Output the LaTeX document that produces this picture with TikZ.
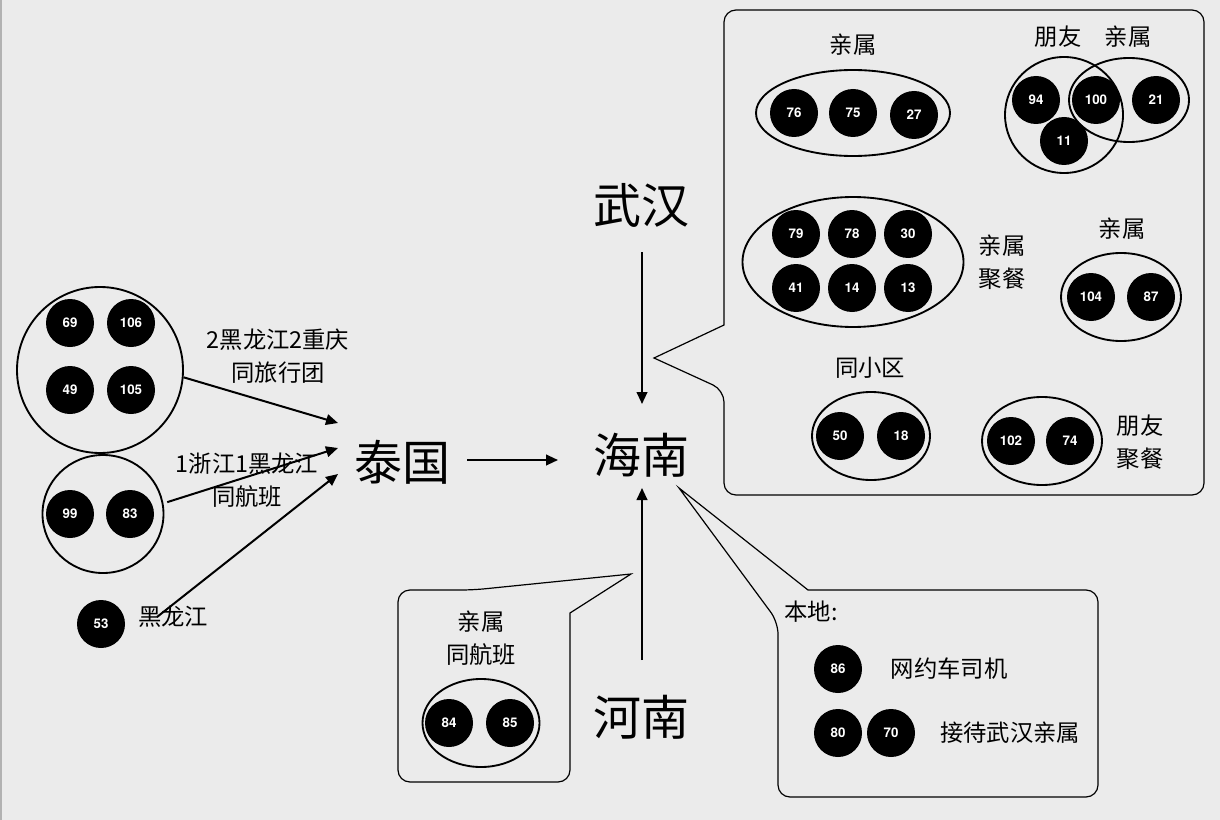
\documentclass[tikz,border=0pt]{standalone}
\usepackage{fontspec}
\setmainfont{Lato}
\newfontfamily\numfont{TeX Gyre Heros}
\newfontfamily\cjk{Noto Sans CJK SC}
\usetikzlibrary{shapes.geometric,arrows.meta}
\definecolor{bgc}{HTML}{EBEBEB}
\begin{document}
\begin{tikzpicture}[x=0.75pt,y=-0.75pt,
 person/.style={circle,fill=black,text=white,minimum size=36pt,inner sep=0pt,font=\numfont\bfseries\fontsize{10}{12}\selectfont},
 grp/.style 2 args={ellipse,draw=black,line width=1.4pt,inner sep=0pt,minimum width=#1*0.75pt,minimum height=#2*0.75pt},
 lab/.style={font=\cjk\fontsize{17.5}{24.5}\selectfont,align=center,inner sep=1pt},
 big/.style={font=\cjk\fontsize{36}{40}\selectfont,inner sep=1pt},
 arr/.style={-{Triangle[length=9pt,width=8pt]},line width=1.5pt},
 callout/.style={line width=0.9pt}]
\fill[bgc] (0,0) rectangle (1220,820);
\useasboundingbox (0,0) rectangle (1220,820);
\draw[gray!60,line width=1.2pt] (0.8,0) -- (0.8,820);

% ---- left groups
\node[grp={166}{166}] (g1) at (100,370) {};
\node[person] (p69) at (70,323) {69};
\node[person] (p106) at (131,323) {106};
\node[person] (p49) at (70,390) {49};
\node[person] (p105) at (131,390) {105};
\node[grp={121}{118}] (g2) at (103,514) {};
\node[person] (p99) at (70,514) {99};
\node[person] (p83) at (130,514) {83};
\node[person] (p53) at (101,624) {53};

\node[lab] (l1) at (278,356) {2黑龙江2重庆\\同旅行团};
\node[lab] (l2) at (247,480) {1浙江1黑龙江\\同航班};
\node[lab] (l3) at (173,617) {黑龙江};

\node[big] (taiguo) at (402,462) {泰国};
\node[big] (hainan) at (641,455) {海南};
\node[big] (wuhan) at (641,205) {武汉};
\node[big] (henan) at (641,717) {河南};

\coordinate (a1) at (338,423);
\coordinate (a2) at (338,448);
\coordinate (a3) at (338,474);
\coordinate (s3) at (157,617);
\draw[arr] (g1.-5) -- (a1);
\draw[arr,shorten <=3pt] (g2.10) -- (a2);
\draw[arr] (s3) -- (a3);

\coordinate (b1) at (467,460);
\coordinate (b2) at (558,460);
\draw[arr] (b1) -- (b2);
\coordinate (c1) at (642,252);
\coordinate (c2) at (642,404);
\draw[arr] (c1) -- (c2);
\coordinate (d1) at (642,660);
\coordinate (d2) at (642,488);
\draw[arr] (d1) -- (d2);

% ---- big callout
\draw[callout,rounded corners=9pt] (724,200) -- (724,10) -- (1204,10) -- (1204,495) -- (724,495) -- (724,390) [sharp corners] -- (654,358) -- (724,325) -- cycle;

\node[lab] at (853,45) {亲属};
\node[grp={194}{86}] (e1) at (853,113) {};
\node[person] (p76) at (794,113) {76};
\node[person] (p75) at (853,113) {75};
\node[person] (p27) at (914,115) {27};

\node[lab] at (1058,37) {朋友};
\node[lab] at (1128,37) {亲属};
\node[person] (p94) at (1036,100) {94};
\node[person] (p100) at (1096,100) {100};
\node[person] (p21) at (1156,100) {21};
\node[person] (p11) at (1064,141) {11};
\node[grp={118}{116}] (e2) at (1064,115) {};
\node[grp={120}{84}] (e3) at (1129,100) {};

\node[grp={221}{130}] (e4) at (853,262) {};
\node[person] (p79) at (796,234) {79};
\node[person] (p78) at (852,234) {78};
\node[person] (p30) at (908,234) {30};
\node[person] (p41) at (796,288) {41};
\node[person] (p14) at (852,288) {14};
\node[person] (p13) at (908,288) {13};
\node[lab] at (1002,262) {亲属\\聚餐};

\node[lab] at (1122,229) {亲属};
\node[grp={120}{88}] (e5) at (1121,297) {};
\node[person] (p104) at (1091,297) {104};
\node[person] (p87) at (1151,297) {87};

\node[lab] at (870,368) {同小区};
\node[grp={118}{88}] (e6) at (871,436) {};
\node[person] (p50) at (840,436) {50};
\node[person] (p18) at (901,436) {18};

\node[grp={120}{88}] (e7) at (1042,441) {};
\node[person] (p102) at (1011,441) {102};
\node[person] (p74) at (1070,441) {74};
\node[lab] at (1140,442) {朋友\\聚餐};

% ---- left-bottom callout
\draw[callout,rounded corners=9pt] (398,700) -- (398,590) -- (473,590) [sharp corners] -- (631,574) -- (570,613) [rounded corners=9pt] -- (570,782) -- (398,782) -- cycle;
\node[lab] at (481,638) {亲属\\同航班};
\node[grp={117}{88}] (e8) at (481,723) {};
\node[person] (p84) at (449,723) {84};
\node[person] (p85) at (510,723) {85};

% ---- right-bottom callout
\draw[callout,rounded corners=9pt] (778,700) -- (778,622) [sharp corners] -- (679,488) -- (808,590) [rounded corners=9pt] -- (1098,590) -- (1098,797) -- (778,797) -- cycle;
\node[lab,anchor=west] at (783,612) {本地:};
\node[person] (p86) at (838,669) {86};
\node[lab] at (949,669) {网约车司机};
\node[person] (p80) at (838,733) {80};
\node[person] (p70) at (891,733) {70};
\node[lab] at (1010,733) {接待武汉亲属};
\end{tikzpicture}
\end{document}
